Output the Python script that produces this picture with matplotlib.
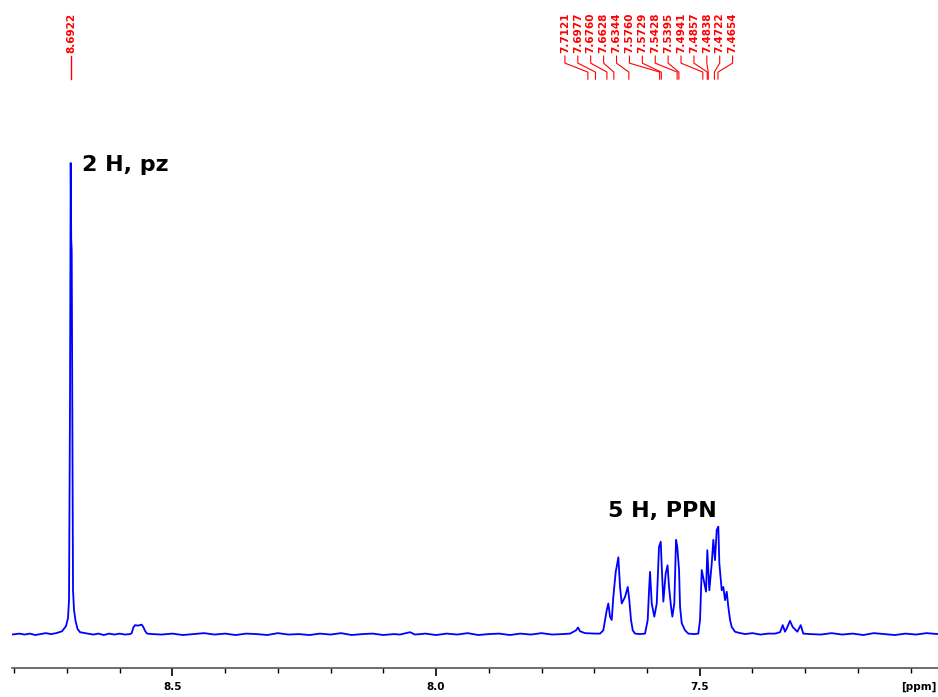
import numpy as np
import matplotlib
matplotlib.use('Agg')
import matplotlib.pyplot as plt
from matplotlib.ticker import MultipleLocator, FixedLocator

# 1H NMR trace: chemical shift (ppm) and intensity (tallest = 100)
shift = [8.8040, 8.7900, 8.7800, 8.7700, 8.7600, 8.7500, 8.7400, 8.7300, 8.7200,
         8.7091, 8.7016, 8.6978, 8.6959,
         8.6940, 8.6927, 8.6917, 8.6908, 8.6896, 8.6883, 8.6864, 8.6835, 8.6798,
         8.6750, 8.6655, 8.6500, 8.6400, 8.6300, 8.6200, 8.6100, 8.6000, 8.5900,
         8.5800, 8.5770, 8.5739, 8.5707, 8.5650, 8.5580, 8.5550, 8.5518, 8.5480,
         8.5385, 8.5200, 8.5000, 8.4800, 8.4600, 8.4400, 8.4200, 8.4000, 8.3800,
         8.3600, 8.3400, 8.3200, 8.3000, 8.2800, 8.2600, 8.2400, 8.2200, 8.2000,
         8.1800, 8.1600, 8.1400, 8.1200, 8.1000, 8.0800, 8.0683, 8.0493, 8.0398,
         8.0200, 8.0000, 7.9800, 7.9600, 7.9400, 7.9200, 7.9000, 7.8800, 7.8600,
         7.8400, 7.8200, 7.8000, 7.7800, 7.7600,
         7.7459, 7.7345, 7.7307, 7.7270, 7.7175, 7.6985, 7.6890,
         7.6828, 7.6763, 7.6733, 7.6701, 7.6669, 7.6638, 7.6593, 7.6574, 7.6543,
         7.6511, 7.6479, 7.6416, 7.6365, 7.6335, 7.6303, 7.6270, 7.6227, 7.6132,
         7.6037, 7.5986, 7.5961, 7.5942, 7.5910, 7.5861, 7.5815, 7.5772, 7.5739,
         7.5720, 7.5690, 7.5645, 7.5610, 7.5582, 7.5544, 7.5519, 7.5482, 7.5449,
         7.5425, 7.5392, 7.5373, 7.5341, 7.5279, 7.5216, 7.5108, 7.5027,
         7.4994, 7.4962, 7.4913, 7.4880, 7.4856, 7.4818, 7.4772, 7.4742, 7.4710,
         7.4678, 7.4647, 7.4628, 7.4583, 7.4552, 7.4520, 7.4488, 7.4458, 7.4425,
         7.4393, 7.4331, 7.4268, 7.4141, 7.4000, 7.3850, 7.3700, 7.3572, 7.3477,
         7.3426, 7.3383, 7.3350, 7.3288, 7.3237, 7.3193, 7.3149, 7.3085, 7.3036,
         7.2909, 7.2700, 7.2500, 7.2300, 7.2100, 7.1900, 7.1700, 7.1500, 7.1300,
         7.1100, 7.0900, 7.0700, 7.0482]
intens = [-0.1, 0.1, -0.1, 0.1, -0.2, 0.0, 0.2, 0.0, 0.2,
          0.6, 1.7, 3.4, 7.2,
          49.7, 100.0, 83.7, 81.5, 45.4, 9.3, 5.1, 2.8, 1.1,
          0.4, 0.2, -0.1, 0.1, -0.2, 0.1, -0.1, 0.1, -0.1,
          0.0, 0.2, 1.4, 1.9, 1.8, 2.0, 1.5, 0.7, 0.1,
          0.0, -0.1, 0.1, -0.2, 0.0, 0.2, -0.1, 0.1, -0.2,
          0.1, 0.0, -0.2, 0.2, -0.1, 0.0, -0.2, 0.1, -0.1,
          0.2, -0.2, 0.0, 0.1, -0.2, 0.0, -0.1, 0.4, -0.1,
          0.1, -0.2, 0.1, -0.1, 0.2, -0.2, 0.0, 0.1, -0.2,
          0.1, -0.1, 0.2, -0.1, 0.0,
          0.1, 0.8, 1.4, 0.6, 0.2, 0.1, 0.1,
          0.8, 5.1, 6.5, 3.7, 3.0, 7.9, 13.2, 14.3, 16.3,
          10.0, 6.5, 7.9, 10.0, 7.2, 3.0, 0.8, 0.1, 0.0,
          0.1, 3.0, 9.3, 13.2, 6.5, 3.7, 6.5, 18.5, 19.6,
          14.3, 6.9, 12.9, 14.6, 10.0, 5.8, 3.7, 6.5, 20.0,
          18.5, 13.6, 5.8, 2.3, 0.8, 0.1, 0.0, 0.1,
          3.0, 13.6, 10.8, 9.0, 17.8, 9.3, 15.0, 20.0, 15.7,
          22.1, 22.8, 15.0, 9.3, 10.0, 7.2, 9.0, 5.8, 3.0,
          1.5, 0.5, 0.3, 0.0, 0.2, -0.1, 0.1, 0.1, 0.4,
          1.9, 0.5, 1.2, 2.8, 1.5, 1.0, 0.5, 1.9, 0.1,
          0.0, -0.1, 0.2, -0.1, 0.1, -0.2, 0.2, 0.0, -0.2,
          0.1, -0.1, 0.2, 0.0]

# peak picking labels
peak_single = 8.6922
peak_multi = [7.7121, 7.6977, 7.6760, 7.6628, 7.6344, 7.5760, 7.5729,
              7.5428, 7.5395, 7.4941, 7.4857, 7.4838, 7.4722, 7.4654]

fig = plt.figure(figsize=(9.38, 6.97), dpi=100)
ax = fig.add_axes([12/938, 29/697, 926/938, 668/697])

ax.plot(shift, intens, color='#0000ff', lw=1.3)

ax.set_xlim(8.8040, 7.0482)
ax.set_ylim(-7.2, 134.6)

for s in ['left', 'top', 'right']:
    ax.spines[s].set_visible(False)
ax.spines['bottom'].set_color('#555555')
ax.spines['bottom'].set_linewidth(1.2)
ax.set_yticks([])
ax.xaxis.set_major_locator(FixedLocator([8.5, 8.0, 7.5]))
ax.xaxis.set_minor_locator(MultipleLocator(0.1))
ax.tick_params(axis='x', which='major', length=6, width=1.2, pad=4,
               labelsize=7.5, color='black')
ax.tick_params(axis='x', which='minor', length=3.8, width=1.0, color='black')
ax.set_xticklabels(['8.5', '8.0', '7.5'], fontweight='bold', fontsize=7.5)
ax.text(0.979, -0.028, '[ppm]', transform=ax.transAxes, ha='center', va='center',
        fontsize=7.5, fontweight='bold')

# integrals / assignments
ax.text(8.6712, 98.3, '2 H, pz', fontsize=16, fontweight='bold', va='baseline')
ax.text(7.6739, 24.8, '5 H, PPN', fontsize=16, fontweight='bold', va='baseline')

red = '#ff0000'
# single label
ax.plot([peak_single, peak_single], [122.7, 117.8], color=red, lw=1.0, clip_on=False)
ax.text(peak_single, 123.4, '%.4f' % peak_single, rotation=90, color=red,
        fontsize=7.5, fontweight='bold', ha='center', va='bottom')

# multiplet labels spread out
label_x = np.linspace(7.7556, 7.4376, len(peak_multi))
for lx, p in zip(label_x, peak_multi):
    ax.plot([lx, lx, p, p], [122.7, 121.2, 119.3, 117.8], color=red, lw=0.8,
            clip_on=False)
    ax.text(lx, 123.4, '%.4f' % p, rotation=90, color=red, fontsize=7.5,
            fontweight='bold', ha='center', va='bottom')

fig.savefig('out.png', dpi=100)
